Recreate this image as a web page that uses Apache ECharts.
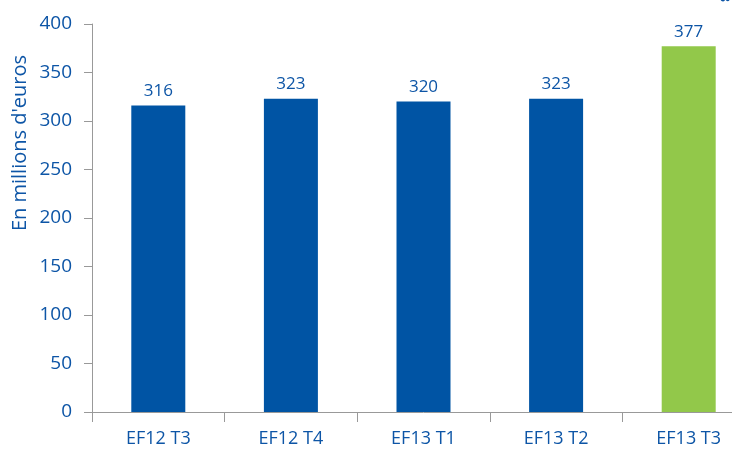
<!DOCTYPE html>
<html><head><meta charset="utf-8">
<script src="https://cdn.jsdelivr.net/npm/echarts@6/dist/echarts.min.js"></script>
<style>html,body{margin:0;padding:0;background:#fff;overflow:hidden}#c{width:755px;height:456px}</style>
</head><body><div id="c"></div>
<script>
const categories = ['EF12 T3', 'EF12 T4', 'EF13 T1', 'EF13 T2', 'EF13 T3'];
const values = [316, 323, 320, 323, 377];
const barColors = ['#0054a4', '#0054a4', '#0054a4', '#0054a4', '#92c84a'];
const yTicks = [0, 50, 100, 150, 200, 250, 300, 350, 400];

const blue = '#0d55a6';
const font = 'Open Sans';
const chart = echarts.init(document.getElementById('c'));
chart.setOption({
  animation: false,
  grid: { left: 92, top: 24, right: 0, bottom: 44, containLabel: false },
  xAxis: {
    type: 'category', data: categories,
    axisLine: { lineStyle: { color: '#999', width: 1 } },
    axisTick: { show: true, length: 10, lineStyle: { color: '#999' } },
    axisLabel: { color: blue, fontSize: 18, fontFamily: font, margin: 18 }
  },
  yAxis: {
    type: 'value', min: yTicks[0], max: yTicks[yTicks.length - 1], interval: 50,
    splitLine: { show: false },
    axisLine: { show: true, lineStyle: { color: '#999' } },
    axisTick: { show: true, length: 8, lineStyle: { color: '#999' } },
    axisLabel: { color: blue, fontSize: 19, fontFamily: font, margin: 20 }
  },
  series: [{
    type: 'bar', barWidth: 54,
    data: values.map((v, i) => ({ value: v, itemStyle: { color: barColors[i] } })),
    label: { show: true, position: 'top', color: blue, fontSize: 17, fontFamily: font, distance: 6 }
  }],
  graphic: [
    { type: 'text', x: 20, y: 143, rotation: Math.PI / 2,
      style: { text: "En millions d'euros", fill: blue, font: '20px "Open Sans"', align: 'center', verticalAlign: 'middle' } },
    { type: 'text', x: 724, y: 2, rotation: -Math.PI / 2,
      style: { text: 'T3', fill: blue, font: 'bold 15px "Open Sans"', align: 'right', verticalAlign: 'middle' } }
  ]
});
</script></body></html>
